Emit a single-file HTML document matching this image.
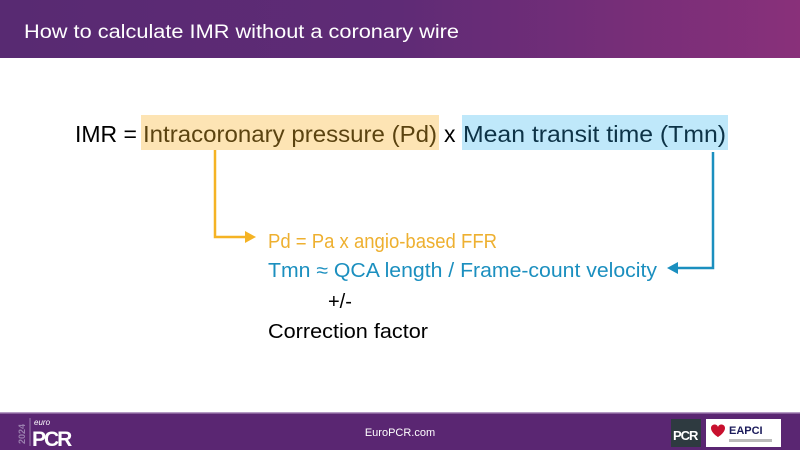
<!DOCTYPE html>
<html><head><meta charset="utf-8"><style>
html,body{margin:0;padding:0;background:#fff;}
svg{display:block;font-family:"Liberation Sans",sans-serif;}
</style></head><body>
<svg width="800" height="450" viewBox="0 0 800 450" xmlns="http://www.w3.org/2000/svg">
<defs>
<linearGradient id="hg" x1="0" x2="1" y1="0" y2="0">
<stop offset="0" stop-color="#582a72"/><stop offset="0.5" stop-color="#5f2b76"/><stop offset="1" stop-color="#89307a"/>
</linearGradient>
</defs>
<rect x="0" y="0" width="800" height="58" fill="url(#hg)"/>
<text x="24" y="38" font-size="19" fill="#fff" textLength="435" lengthAdjust="spacingAndGlyphs">How to calculate IMR without a coronary wire</text>

<rect x="141" y="115" width="298" height="35" fill="#fde4b4"/>
<rect x="462" y="115" width="266" height="35" fill="#bfe8fa"/>
<text x="75" y="142" font-size="23" fill="#000" textLength="62" lengthAdjust="spacingAndGlyphs">IMR =</text>
<text x="143" y="142" font-size="23" fill="#5b4310" textLength="294" lengthAdjust="spacingAndGlyphs">Intracoronary pressure (Pd)</text>
<text x="444" y="142" font-size="23" fill="#000">x</text>
<text x="463" y="142" font-size="23" fill="#0d3347" textLength="263" lengthAdjust="spacingAndGlyphs">Mean transit time (Tmn)</text>

<polyline points="215,150 215,237 246,237" fill="none" stroke="#f5b324" stroke-width="2.5"/>
<polygon points="245,231 256,237 245,243" fill="#f5b324"/>
<polyline points="713,152 713,268 677,268" fill="none" stroke="#1b8fbf" stroke-width="2.5"/>
<polygon points="678,262 667,268 678,274" fill="#1b8fbf"/>

<text x="268" y="248" font-size="20" fill="#eeb030" textLength="229" lengthAdjust="spacingAndGlyphs">Pd = Pa x angio-based FFR</text>
<text x="268" y="277" font-size="20" fill="#1b8fbf" textLength="389" lengthAdjust="spacingAndGlyphs">Tmn ≈ QCA length / Frame-count velocity</text>
<text x="328" y="308" font-size="20" fill="#000">+/-</text>
<text x="268" y="338" font-size="20" fill="#000" textLength="160" lengthAdjust="spacingAndGlyphs">Correction factor</text>

<rect x="0" y="413" width="800" height="37" fill="#5a2672"/>
<rect x="0" y="412" width="800" height="1.5" fill="#b59bc4"/>
<text x="400" y="436" font-size="11" fill="#fff" text-anchor="middle">EuroPCR.com</text>
<text transform="translate(25,444) rotate(-90)" font-size="9" font-weight="bold" fill="#9a7fae">2024</text>
<line x1="30" y1="418" x2="30" y2="446" stroke="#9a7fae" stroke-width="1"/>
<text x="34" y="425" font-size="8" font-style="italic" fill="#fff">euro</text>
<text x="32" y="446" font-size="21" font-weight="bold" fill="#fff" letter-spacing="-2">PCR</text>
<rect x="671" y="419" width="30" height="28" fill="#2e3a40"/>
<text x="673" y="440" font-size="13" font-weight="bold" fill="#fff" letter-spacing="-1">PCR</text>
<rect x="706" y="419" width="75" height="28" fill="#fff"/>
<path d="M711,428 c0,-4 6,-5 7,-1 c1,-4 7,-3 7,1 c0,5 -7,9 -7,9 c0,0 -7,-4 -7,-9z" fill="#c8102e"/>
<text x="729" y="434" font-size="11" font-weight="bold" fill="#1a1a5a">EAPCI</text>
<rect x="729" y="439" width="43" height="3" fill="#bbb"/>
</svg>
</body></html>
